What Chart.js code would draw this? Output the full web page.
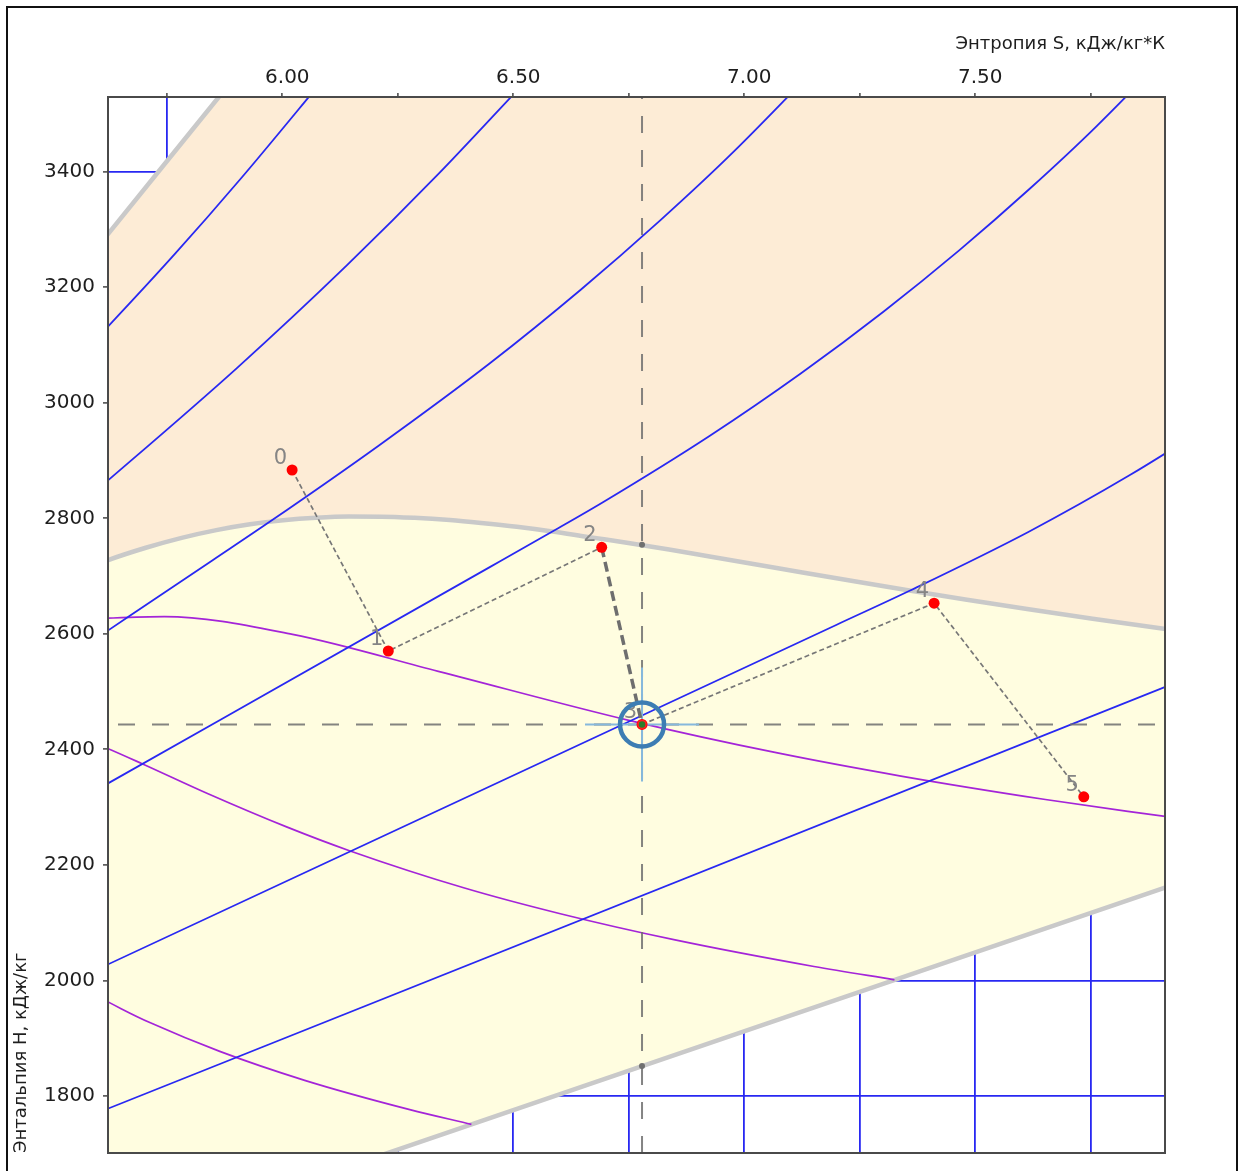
<!DOCTYPE html>
<html><head><meta charset="utf-8">
<script src="https://cdn.jsdelivr.net/npm/chart.js@4.4.0/dist/chart.umd.min.js"></script>
<style>
html,body{margin:0;padding:0;background:#fff;overflow:hidden;width:1240px;height:1171px;}
#frame{position:absolute;left:6px;top:6px;width:1232px;height:1200px;border:2px solid #111;box-sizing:border-box;}
#c{position:absolute;left:0;top:0;}
</style></head><body>
<div id="frame"></div>
<canvas id="c" width="1240" height="1171"></canvas>
<script>
// ---- axes ----
const sRange = [5.6227, 7.9106];
const hRange = [1701.3, 3529.3];
const entropyTicks = [5.75, 6.00, 6.25, 6.50, 6.75, 7.00, 7.25, 7.50, 7.75];
const entropyTickLabels = ['6.00', '6.50', '7.00', '7.50'];
const enthalpyTicks = [1800, 2000, 2200, 2400, 2600, 2800, 3000, 3200, 3400];
const sTitle = 'Энтропия S, кДж/кг*К';
const hTitle = 'Энтальпия H, кДж/кг';

// ---- region boundaries [s, h] ----
const saturationLine = [[5.5362,2700.1],[5.6218,2727.3],[5.7045,2749.0],[5.7821,2766.2],[5.8571,2779.6],[5.9301,2789.7],[6.0019,2796.6],[6.0730,2800.9],[6.1437,2803.0],[6.2146,2802.9],[6.2861,2800.9],[6.3626,2797.0],[6.4302,2792.0],[6.5077,2785.3],[6.5841,2777.2],[6.6640,2767.4],[6.7491,2757.4],[6.8371,2745.9],[6.9280,2733.5],[7.0259,2720.1],[7.1292,2705.9],[7.2381,2691.1],[7.3542,2675.6],[7.4784,2659.6],[7.6121,2643.0],[7.7540,2626.1],[7.9080,2608.8],[8.0748,2591.3]];
const tripleLine = [[5.50,1502.4],[8.0748,2205.7]];
const leftBoundary = [[5.58,3250.0],[5.624,3293.4],[5.863,3529.8]];

// ---- isobars (blue) ----
const isobarA = [[5.58,3096],[5.624,3133],[5.768,3258],[5.908,3386],[6.058,3530],[6.10,3571]];
const isobarB = [[5.554,2818.1],[5.9017,3060.1],[6.1401,3238.2],[6.3348,3393.5],[6.5048,3537.6]];
const isobarC = [[5.58,2582.8],[5.85,2727.8],[5.9734,2794.3],[6.2084,2925.7],[6.4493,3068.4],[6.6459,3195.7],[6.8186,3316.2],[6.9759,3433.8],[7.2589,3666.5]];
const isobarD = [[5.58,2321.8],[6.45,2715.9],[6.5865,2778.1],[6.6940,2827.9],[6.9247,2942.6],[7.1229,3051.2],[7.3011,3157.7],[7.4651,3263.9],[7.6190,3371.3],[7.7622,3478.5],[8.0290,3697.9]];
const isobarE = [[5.58,2011.9],[7.20,2615.8],[7.3589,2675.0],[7.6148,2776.4],[7.8356,2875.3],[8.0346,2974.3]];
const isobarF = [[5.58,1764.5],[8.00,2536.4]];

// ---- dryness lines (magenta) ----
const dryness09 = [[5.5781,2625.7],[5.7449,2629.9],[6.0222,2599.1],[6.3376,2535.1],[6.7501,2450.3],[7.0743,2393.4],[7.3391,2353.8],[7.6517,2313.2],[7.8301,2292.7],[8.0258,2271.9]];
const dryness08 = [[5.5324,2430.4],[5.6120,2405.0],[5.6965,2375.2],[5.8380,2323.6],[6.0092,2265.8],[6.1453,2224.6],[6.3943,2160.0],[6.6018,2115.5],[6.8500,2070.2],[7.1508,2024.2],[7.3250,2001.1]];
const dryness07 = [[5.3385,2112.2],[5.4490,2045.5],[5.5405,1998.9],[5.6511,1951.1],[5.7144,1926.6],[5.8646,1877.2],[6.0484,1827.1],[6.2759,1776.4],[6.4093,1750.9]];

// ---- process points ----
const pointLabels = ['0', '1', '2', '3', '4', '5'];
const processS = [6.0212, 6.2294, 6.6913, 6.7786, 7.4108, 7.7348];
const processH = [2883.6, 2570.3, 2749.8, 2443.1, 2653.1, 2317.8];
const crossDotsH = [2754.3, 1851.7];

// ---- helpers ----
const P = a => a.map(([x, y]) => ({x, y}));
const proc = idx => idx.map(i => ({x: processS[i], y: processH[i]}));
const s3 = processS[3], h3 = processH[3];

const BLUE = '#2828f2', MAG = '#a424d8', BOUND = '#c9c9c9';
const curve = (label, arr, color, width, order) => ({
  label, data: P(arr), borderColor: color, borderWidth: width, pointRadius: 0,
  fill: false, cubicInterpolationMode: 'monotone', order
});

const superheatedArea = [...leftBoundary, [saturationLine[saturationLine.length-1][0], leftBoundary[leftBoundary.length-1][1]], ...saturationLine.slice().reverse()];
const wetArea = [...saturationLine, ...tripleLine.slice().reverse()];

const datasets = [
  {label:'Перегретый пар', data:P(superheatedArea), fill:'shape', backgroundColor:'#fdecd6', borderColor:'rgba(0,0,0,0)', borderWidth:0, pointRadius:0, order:100},
  {label:'Влажный пар', data:P(wetArea), fill:'shape', backgroundColor:'#fffde0', borderColor:'rgba(0,0,0,0)', borderWidth:0, pointRadius:0, order:99},
  curve('x=1', saturationLine, BOUND, 4.5, 90),
  curve('t=0.01', tripleLine, BOUND, 4.5, 90),
  curve('предел', leftBoundary, BOUND, 4.5, 90),
  curve('x=0.9', dryness09, MAG, 1.7, 80),
  curve('x=0.8', dryness08, MAG, 1.7, 80),
  curve('x=0.7', dryness07, MAG, 1.7, 80),
  curve('pA', isobarA, BLUE, 1.8, 70),
  curve('pB', isobarB, BLUE, 1.8, 70),
  curve('pC', isobarC, BLUE, 1.8, 70),
  curve('pD', isobarD, BLUE, 1.8, 70),
  curve('pE', isobarE, BLUE, 1.8, 70),
  curve('pF', isobarF, BLUE, 1.8, 70),
  {label:'vline', data:[{x:s3,y:hRange[0]},{x:s3,y:hRange[1]}], borderColor:'rgba(110,110,110,0.85)', borderWidth:2, borderDash:[17,17], pointRadius:0, fill:false, order:60},
  {label:'hline', data:[{x:sRange[0],y:h3},{x:sRange[1],y:h3}], borderColor:'rgba(110,110,110,0.85)', borderWidth:2, borderDash:[17,17], borderDashOffset:24, pointRadius:0, fill:false, order:60},
  {label:'cross', data:[{x:s3,y:h3}], showLine:false, pointStyle:'cross', pointRadius:57, borderColor:'#86b8dc', borderWidth:2, order:56},
  {label:'dots', data:crossDotsH.map(h => ({x:s3, y:h})), showLine:false, pointRadius:3, backgroundColor:'#707070', borderWidth:0, order:55},
  {label:'proc1', data:proc([0,1,2]), borderColor:'#777', borderWidth:1.7, borderDash:[5,3], pointRadius:0, fill:false, order:50},
  {label:'proc2', data:proc([3,4,5]), borderColor:'#777', borderWidth:1.7, borderDash:[5,3], pointRadius:0, fill:false, order:50},
  {label:'proc23', data:proc([2,3]), borderColor:'#6e6e6e', borderWidth:3.5, borderDash:[10,5], pointRadius:0, fill:false, order:45},
  {label:'Точки', data:proc([0,1,2,3,4,5]), showLine:false, pointRadius:5.5, backgroundColor:'#ff0000', borderWidth:0, order:40},
  {label:'ring', data:[{x:s3,y:h3}], showLine:false, pointStyle:'circle', pointRadius:22, borderColor:'#3d7db3', borderWidth:4.5, backgroundColor:'rgba(0,0,0,0)', order:30},
  {label:'center', data:[{x:s3,y:h3}], showLine:false, pointRadius:4, borderColor:'#ff2020', borderWidth:1.5, backgroundColor:'#2a7d2a', order:20}
];

const annot = {
  id: 'annot',
  afterDatasetDraw(chart, args) {
    if (chart.data.datasets[args.index].label !== 'Точки') return;
    const ctx = chart.ctx, xs = chart.scales.x, ys = chart.scales.y;
    ctx.save();
    ctx.font = '21px "DejaVu Sans"';
    ctx.fillStyle = '#858585';
    ctx.textAlign = 'right';
    ctx.textBaseline = 'alphabetic';
    pointLabels.forEach((t, i) => {
      ctx.fillText(t, xs.getPixelForValue(processS[i]) - 5, ys.getPixelForValue(processH[i]) - 6);
    });
    ctx.restore();
  },
  afterDatasetsDraw(chart) {
    const a = chart.chartArea, ctx = chart.ctx;
    ctx.save();
    ctx.strokeStyle = '#4a4a4a';
    ctx.lineWidth = 2;
    ctx.strokeRect(a.left, a.top, a.right - a.left, a.bottom - a.top);
    ctx.restore();
  }
};

const tickFont = {family: 'DejaVu Sans', size: 20};
const titleFont = {family: 'DejaVu Sans', size: 18};

new Chart(document.getElementById('c'), {
  type: 'line',
  data: {datasets},
  plugins: [annot],
  options: {
    responsive: false,
    animation: false,
    events: [],
    layout: {autoPadding: false, padding: {left: 0, top: 0, right: 75, bottom: 18}},
    plugins: {legend: {display: false}, tooltip: {enabled: false}},
    scales: {
      x: {
        type: 'linear', position: 'top', min: sRange[0], max: sRange[1],
        afterBuildTicks: s => { s.ticks = entropyTicks.map(v => ({value: v})); },
        ticks: {
          autoSkip: false, maxRotation: 0, labelOffset: 5, padding: 3, color: '#1e1e1e', font: tickFont,
          callback: v => { const t = Number(v).toFixed(2); return entropyTickLabels.includes(t) ? t : ''; }
        },
        grid: {color: BLUE, lineWidth: 1.8, tickLength: 4, tickColor: '#444', tickWidth: 1.5},
        border: {display: false},
        title: {display: true, text: sTitle, align: 'end', color: '#1e1e1e', font: titleFont, padding: {top: 34, bottom: 0}},
        afterFit: s => { s.height = 97; s.paddingLeft = 0; s.paddingRight = 0; }
      },
      y: {
        type: 'linear', position: 'left', min: hRange[0], max: hRange[1],
        afterBuildTicks: s => { s.ticks = enthalpyTicks.map(v => ({value: v})); },
        ticks: {
          autoSkip: false, padding: 8, color: '#1e1e1e', font: tickFont,
          callback: v => String(Math.round(v))
        },
        grid: {color: BLUE, lineWidth: 1.8, tickLength: 5, tickColor: '#444', tickWidth: 1.5},
        border: {display: false},
        title: {display: true, text: hTitle, align: 'start', color: '#1e1e1e', font: titleFont, padding: {top: 11, bottom: 0}},
        afterFit: s => { s.width = 108; s.paddingTop = 0; s.paddingBottom = 0; }
      }
    }
  }
});
</script>
</body></html>
